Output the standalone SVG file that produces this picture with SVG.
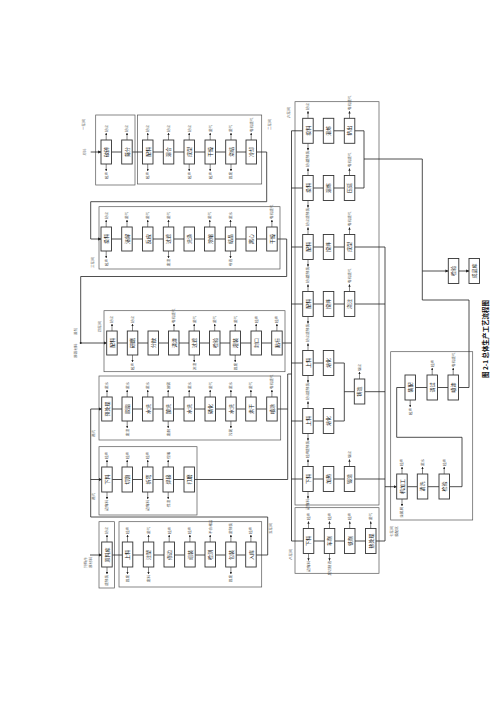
<svg xmlns="http://www.w3.org/2000/svg" width="500" height="707" viewBox="0 0 500 707">
<defs>
<marker id="a" viewBox="0 0 6 6" refX="5.5" refY="3" markerWidth="4" markerHeight="4" orient="auto"><path d="M0,0L6,3L0,6z" fill="#222"/></marker>
<style>
.b{fill:#fff;stroke:#333;stroke-width:0.9}
.f{fill:none;stroke:#555;stroke-width:0.7}
.l{fill:none;stroke:#222;stroke-width:0.8}
.s{fill:none;stroke:#333;stroke-width:0.6}
.t{font-family:"Noto Sans CJK SC","Noto Sans",sans-serif;font-size:5px;fill:#222;text-anchor:middle}
.u{font-family:"Noto Sans CJK SC","Noto Sans",sans-serif;font-size:3.6px;fill:#555;text-anchor:start}
.d{font-family:"Noto Sans CJK SC","Noto Sans",sans-serif;font-size:3.6px;fill:#555;text-anchor:end}
.g{font-family:"Noto Sans CJK SC","Noto Sans",sans-serif;font-size:3.6px;fill:#888;text-anchor:middle}
.c{font-family:"Noto Sans CJK SC","Noto Sans",sans-serif;font-size:6.5px;font-weight:bold;fill:#111;text-anchor:start}
</style>
</defs>
<rect width="500" height="707" fill="#fff"/>
<g id="frames">
<rect class="f" x="95.7" y="115" width="39.3" height="70"/>
<rect class="f" x="137.5" y="115" width="124.2" height="69"/>
<rect class="f" x="99" y="206.7" width="181" height="62.3"/>
<rect class="f" x="104" y="310.7" width="181" height="61"/>
<rect class="f" x="99" y="376" width="181.7" height="64"/>
<rect class="f" x="99" y="446.7" width="98" height="68.3"/>
<rect class="f" x="99" y="521.7" width="15.5" height="66.3"/>
<rect class="f" x="119" y="521.7" width="142.7" height="65.3"/>
<rect class="f" x="295" y="101.7" width="84" height="403.3"/>
<rect class="f" x="295" y="507.7" width="84" height="65.6"/>
<rect class="f" x="390.7" y="351.7" width="82" height="168.3"/>
</g>
<g id="connectors">
<path class="l" d="M90.7,152H101" marker-end="url(#a)"/>
<path class="l" d="M111.5,152H121.7M132.2,152H142.5M153,152H163.3M173.8,152H184M194.5,152H205M215.5,152H225.7M236.2,152H246"/>
<path class="l" d="M256.5,152H266.7V201.7H90.7V239H101" marker-end="url(#a)"/>
<path class="l" d="M111.5,239H121.7M132.2,239H142.5M153,239H163.3M173.8,239H184M194.5,239H204.5M215,239H225.3M235.8,239H246M256.5,239H266.7"/>
<path class="l" d="M277.2,239H286.7V276.5H80.7V343H106.7" marker-end="url(#a)"/>
<circle cx="80.7" cy="343" r="1" fill="#222"/>
<path class="l" d="M117.2,343H127.3M137.8,343H148M158.5,343H168.5M179,343H189M199.5,343H209.5M220,343H230M240.5,343H251M261.5,343H271.7"/>
<path class="l" d="M282.2,343H291.5"/>
<path class="l" d="M112.2,409H122M132.5,409H142.5M153,409H163M173.5,409H184M194.5,409H205M215.5,409H225.7M236.2,409H245.7M256.2,409H266.7"/>
<path class="l" d="M277.2,409H287.7M194.5,479.5H287.7M287.7,479.5V374H291.5"/>
<path class="l" d="M112.2,479.5H122M132.5,479.5H142.5M153,479.5H163M173.5,479.5H184"/>
<path class="l" d="M90,555H101.7" marker-end="url(#a)"/>
<path class="l" d="M112.2,555H122.3M132.8,555H143.3M153.8,555H164M174.5,555H184.7M195.2,555H205M215.5,555H225.7M236.2,555H245.7"/>
<path class="l" d="M256.2,555H267.7V517H90.7V409"/>
<path class="l" d="M90.7,409H101.7" marker-end="url(#a)"/>
<path class="l" d="M90.7,479.5H101.7" marker-end="url(#a)"/>
<path class="l" d="M291.5,130.8V541"/>
<path class="l" d="M291.5,130.8H302.7M291.5,188H302.7M291.5,247H302.7M291.5,304H302.7M291.5,363H302.7M291.5,421H302.7M291.5,479H302.7M291.5,541H303.3"/>
<path class="l" d="M313.2,130.8H323.3M333.8,130.8H344.3M313.2,188H323.3M333.8,188H344.3M313.2,247H323.3M333.8,247H344.3M313.2,304H323.3M333.8,304H344.3M313.2,363H323.3M313.2,421H323.3M313.2,479H323.3M333.8,479H344.3M313.8,541H324.3M334.8,541H344.5M355,541H365.5"/>
<path class="l" d="M354.8,130.8H364V188H354.8M364,159H422.3V300H469V387.5H459"/>
<path class="l" d="M422.3,271H448.3" marker-end="url(#a)"/>
<path class="l" d="M458.8,271H469" marker-end="url(#a)"/>
<path class="l" d="M333.8,363H344.3V421H333.8M344.3,391.7H354.3"/>
<path class="l" d="M354.8,247H385M354.8,304H385M364.8,391.7H385M354.8,479H385M376,541H385M385,247V541"/>
<path class="l" d="M385,486.7H396.7" marker-end="url(#a)"/>
<path class="l" d="M407.2,486.7H417.3M427.8,486.7H439M449.5,486.7H462V437.3H396.7V387.5H405"/>
<path class="l" d="M415.5,387.5H427M437.5,387.5H448"/>
<g id="stubs" class="s" marker-end="url(#a)">
<path d="M106.2,140V133"/><path d="M106.2,164V171"/><path d="M127,140V133"/><path d="M147.7,140V133"/><path d="M147.7,164V171"/><path d="M168.5,140V133"/><path d="M189.2,140V133"/><path d="M189.2,164V171"/><path d="M210.2,140V133"/><path d="M210.2,164V171"/><path d="M231,140V133"/><path d="M231,164V171"/><path d="M251.2,140V133"/>
<path d="M106.2,227V220"/><path d="M106.2,251V258"/><path d="M127,227V220"/><path d="M147.7,227V220"/><path d="M168.5,227V220"/><path d="M168.5,251V258"/><path d="M209.7,227V220"/><path d="M230.5,227V220"/><path d="M230.5,251V258"/><path d="M271.9,227V220"/>
<path d="M112,331V324"/><path d="M132.5,331V324"/><path d="M132.5,355V362"/><path d="M174,331V324"/><path d="M194.2,331V324"/><path d="M194.2,355V362"/><path d="M214.7,331V324"/><path d="M235.2,331V324"/><path d="M235.2,355V362"/><path d="M256.2,331V324"/><path d="M276.9,331V324"/>
<path d="M107,397V390"/><path d="M127.2,397V390"/><path d="M127.2,421V428"/><path d="M147.7,397V390"/><path d="M168.2,397V390"/><path d="M168.2,421V428"/><path d="M189.2,397V390"/><path d="M210.2,397V390"/><path d="M230.9,397V390"/><path d="M230.9,421V428"/><path d="M250.9,397V390"/><path d="M271.9,397V390"/>
<path d="M107,467V460"/><path d="M107,492V499"/><path d="M127.2,467V460"/><path d="M147.7,467V460"/><path d="M147.7,492V499"/><path d="M168.2,467V460"/><path d="M168.2,492V499"/>
<path d="M107,542V535"/><path d="M107,567V574"/><path d="M127.5,542V535"/><path d="M127.5,567V574"/><path d="M148.5,542V535"/><path d="M148.5,567V574"/><path d="M169.2,542V535"/><path d="M189.9,542V535"/><path d="M210.2,542V535"/><path d="M230.9,542V535"/><path d="M230.9,567V574"/><path d="M250.9,542V535"/>
<path d="M308,118.3V111.3"/><path d="M308,143.3V150.3"/><path d="M349.5,118.3V111.3"/><path d="M308,175.5V168.5"/><path d="M308,200.5V207.5"/><path d="M349.5,175.5V168.5"/><path d="M308,234.5V227.5"/><path d="M308,259.5V266.5"/><path d="M349.5,234.5V227.5"/><path d="M308,291.5V284.5"/><path d="M308,316.5V323.5"/><path d="M349.5,291.5V284.5"/>
<path d="M308,350.5V343.5"/><path d="M308,375.5V382.5"/><path d="M308,408.5V401.5"/><path d="M308,433.5V440.5"/><path d="M359.5,379V372"/><path d="M308,466.5V459.5"/><path d="M308,491.5V498.5"/><path d="M349.5,466.5V459.5"/>
<path d="M308.5,528.5V521.5"/><path d="M308.5,553.5V560.5"/><path d="M329.5,528.5V521.5"/><path d="M329.5,553.5V560.5"/><path d="M349.7,528.5V521.5"/><path d="M370.7,528.5V521.5"/>
<path d="M410.2,400V407"/><path d="M432.2,375V368"/><path d="M453.2,375V368"/>
<path d="M402,474V467"/><path d="M402,499V506"/><path d="M422.5,474V467"/><path d="M444.2,474V467"/>
</g>
</g>
<g id="labels">
<text class="g" transform="translate(86,152) rotate(-90)">原料</text>
<text class="u" transform="translate(85,130) rotate(-90)">一车间</text>
<text class="u" transform="translate(271,130) rotate(-90)">二车间</text>
<text class="u" transform="translate(94,268) rotate(-90)">三车间</text>
<text class="u" transform="translate(77,358) rotate(-90)">原辅材料</text>
<text class="d" transform="translate(77,328) rotate(-90)">溶剂</text>
<text class="u" transform="translate(101,332) rotate(-90)">四车间</text>
<text class="u" transform="translate(95,437) rotate(-90)">蒸汽</text>
<text class="u" transform="translate(95,500) rotate(-90)">蒸汽</text>
<text class="u" transform="translate(87,568) rotate(-90)">外购件</text>
<text class="u" transform="translate(92,568) rotate(-90)">原材料</text>
<text class="u" transform="translate(272,534) rotate(-90)">五车间</text>
<text class="u" transform="translate(290,118) rotate(-90)">六车间</text>
<text class="u" transform="translate(393,537) rotate(-90)">七车间</text>
<text class="u" transform="translate(398,537) rotate(-90)">装配区</text>
<text class="u" transform="translate(292,560) rotate(-90)">八车间</text>
<text class="c" transform="translate(488,378) rotate(-90)">图 2-1 总体生产工艺流程图</text>
</g>
<g id="stublabels">
<text class="u" transform="translate(107.6,132) rotate(-90)">粉尘</text><text class="d" transform="translate(107.6,172) rotate(-90)">噪声</text>
<text class="u" transform="translate(128.4,132) rotate(-90)">粉尘</text>
<text class="u" transform="translate(149.1,132) rotate(-90)">粉尘</text><text class="d" transform="translate(149.1,172) rotate(-90)">噪声</text>
<text class="u" transform="translate(169.9,132) rotate(-90)">粉尘</text>
<text class="u" transform="translate(190.6,132) rotate(-90)">粉尘</text><text class="d" transform="translate(190.6,172) rotate(-90)">噪声</text>
<text class="u" transform="translate(211.6,132) rotate(-90)">废气</text><text class="d" transform="translate(211.6,172) rotate(-90)">噪声</text>
<text class="u" transform="translate(232.4,132) rotate(-90)">废气</text><text class="d" transform="translate(232.4,172) rotate(-90)">固废</text>
<text class="u" transform="translate(252.6,132) rotate(-90)">有机废气</text>
<text class="u" transform="translate(107.6,219) rotate(-90)">粉尘</text><text class="d" transform="translate(107.6,259) rotate(-90)">噪声</text>
<text class="u" transform="translate(128.4,219) rotate(-90)">废气</text>
<text class="u" transform="translate(149.1,219) rotate(-90)">废气</text>
<text class="u" transform="translate(169.9,219) rotate(-90)">废气</text><text class="d" transform="translate(169.9,259) rotate(-90)">废渣</text>
<text class="u" transform="translate(211.1,219) rotate(-90)">废气</text>
<text class="u" transform="translate(231.9,219) rotate(-90)">废水</text><text class="d" transform="translate(231.9,259) rotate(-90)">母液</text>
<text class="u" transform="translate(273.3,219) rotate(-90)">有机废气</text>
<text class="u" transform="translate(113.4,323) rotate(-90)">粉尘</text>
<text class="u" transform="translate(133.9,323) rotate(-90)">粉尘</text><text class="d" transform="translate(133.9,363) rotate(-90)">噪声</text>
<text class="u" transform="translate(175.4,323) rotate(-90)">有机废气</text>
<text class="u" transform="translate(195.6,323) rotate(-90)">废气</text><text class="d" transform="translate(195.6,363) rotate(-90)">滤渣</text>
<text class="u" transform="translate(216.1,323) rotate(-90)">废气</text>
<text class="u" transform="translate(236.6,323) rotate(-90)">废气</text><text class="d" transform="translate(236.6,363) rotate(-90)">固废</text>
<text class="u" transform="translate(257.6,323) rotate(-90)">噪声</text>
<text class="u" transform="translate(278.3,323) rotate(-90)">噪声</text>
<text class="u" transform="translate(108.4,389) rotate(-90)">废水</text>
<text class="u" transform="translate(128.6,389) rotate(-90)">废水</text><text class="d" transform="translate(128.6,429) rotate(-90)">废渣</text>
<text class="u" transform="translate(149.1,389) rotate(-90)">废水</text>
<text class="u" transform="translate(169.6,389) rotate(-90)">酸雾</text><text class="d" transform="translate(169.6,429) rotate(-90)">废酸</text>
<text class="u" transform="translate(190.6,389) rotate(-90)">废水</text>
<text class="u" transform="translate(211.6,389) rotate(-90)">废气</text>
<text class="u" transform="translate(232.3,389) rotate(-90)">废水</text><text class="d" transform="translate(232.3,429) rotate(-90)">污泥</text>
<text class="u" transform="translate(252.3,389) rotate(-90)">废气</text>
<text class="u" transform="translate(273.3,389) rotate(-90)">有机废气</text>
<text class="u" transform="translate(108.4,459) rotate(-90)">噪声</text><text class="d" transform="translate(108.4,500) rotate(-90)">边角料</text>
<text class="u" transform="translate(128.6,459) rotate(-90)">噪声</text>
<text class="u" transform="translate(149.1,459) rotate(-90)">噪声</text><text class="d" transform="translate(149.1,500) rotate(-90)">边角料</text>
<text class="u" transform="translate(169.6,459) rotate(-90)">焊烟</text><text class="d" transform="translate(169.6,500) rotate(-90)">焊渣</text>
<text class="u" transform="translate(108.4,534) rotate(-90)">粉尘</text><text class="d" transform="translate(108.4,575) rotate(-90)">废包装</text>
<text class="u" transform="translate(128.9,534) rotate(-90)">噪声</text><text class="d" transform="translate(128.9,575) rotate(-90)">固废</text>
<text class="u" transform="translate(149.9,534) rotate(-90)">废气</text><text class="d" transform="translate(149.9,575) rotate(-90)">废料</text>
<text class="u" transform="translate(170.6,534) rotate(-90)">噪声</text>
<text class="u" transform="translate(191.3,534) rotate(-90)">噪声</text>
<text class="u" transform="translate(211.6,534) rotate(-90)">不合格品</text>
<text class="u" transform="translate(232.3,534) rotate(-90)">废包装</text><text class="d" transform="translate(232.3,575) rotate(-90)">固废</text>
<text class="u" transform="translate(252.3,534) rotate(-90)">噪声</text>
<text class="u" transform="translate(309.4,110) rotate(-90)">粉尘</text><text class="d" transform="translate(309.4,151) rotate(-90)">废包装</text>
<text class="u" transform="translate(350.9,110) rotate(-90)">有机废气</text>
<text class="u" transform="translate(309.4,167) rotate(-90)">粉尘</text><text class="d" transform="translate(309.4,208) rotate(-90)">废包装</text>
<text class="u" transform="translate(350.9,167) rotate(-90)">有机废气</text>
<text class="u" transform="translate(309.4,226) rotate(-90)">粉尘</text><text class="d" transform="translate(309.4,267) rotate(-90)">废包装</text>
<text class="u" transform="translate(350.9,226) rotate(-90)">有机废气</text>
<text class="u" transform="translate(309.4,283) rotate(-90)">粉尘</text><text class="d" transform="translate(309.4,324) rotate(-90)">废包装</text>
<text class="u" transform="translate(350.9,283) rotate(-90)">有机废气</text>
<text class="u" transform="translate(309.4,342) rotate(-90)">粉尘</text><text class="d" transform="translate(309.4,383) rotate(-90)">废包装</text>
<text class="u" transform="translate(309.4,400) rotate(-90)">粉尘</text><text class="d" transform="translate(309.4,441) rotate(-90)">废包装</text>
<text class="u" transform="translate(360.9,371) rotate(-90)">烟尘</text>
<text class="u" transform="translate(309.4,458) rotate(-90)">噪声</text><text class="d" transform="translate(309.4,499) rotate(-90)">边角料</text>
<text class="u" transform="translate(350.9,458) rotate(-90)">烟尘</text>
<text class="u" transform="translate(309.9,520) rotate(-90)">噪声</text><text class="d" transform="translate(309.9,561) rotate(-90)">边角料</text>
<text class="u" transform="translate(330.9,520) rotate(-90)">噪声</text><text class="d" transform="translate(330.9,561) rotate(-90)">废切削液</text>
<text class="u" transform="translate(351.1,520) rotate(-90)">噪声</text>
<text class="u" transform="translate(372.1,520) rotate(-90)">废气</text>
<text class="d" transform="translate(411.6,408) rotate(-90)">噪声</text>
<text class="u" transform="translate(433.6,367) rotate(-90)">噪声</text>
<text class="u" transform="translate(454.6,367) rotate(-90)">有机废气</text>
<text class="u" transform="translate(403.4,466) rotate(-90)">噪声</text><text class="d" transform="translate(403.4,507) rotate(-90)">金属屑</text>
<text class="u" transform="translate(423.9,466) rotate(-90)">废水</text>
<text class="u" transform="translate(445.6,466) rotate(-90)">噪声</text>
</g>
<g id="n1_1"><rect class="b" x="101" y="140" width="10.5" height="24"/><text class="t" transform="translate(108,152) rotate(-90)">破碎</text></g>
<g id="n1_2"><rect class="b" x="121.7" y="140" width="10.5" height="24"/><text class="t" transform="translate(128.7,152) rotate(-90)">筛分</text></g>
<g id="n1_3"><rect class="b" x="142.5" y="140" width="10.5" height="24"/><text class="t" transform="translate(149.5,152) rotate(-90)">配料</text></g>
<g id="n1_4"><rect class="b" x="163.3" y="140" width="10.5" height="24"/><text class="t" transform="translate(170.3,152) rotate(-90)">混合</text></g>
<g id="n1_5"><rect class="b" x="184" y="140" width="10.5" height="24"/><text class="t" transform="translate(191,152) rotate(-90)">成型</text></g>
<g id="n1_6"><rect class="b" x="205" y="140" width="10.5" height="24"/><text class="t" transform="translate(212,152) rotate(-90)">干燥</text></g>
<g id="n1_7"><rect class="b" x="225.7" y="140" width="10.5" height="24"/><text class="t" transform="translate(232.7,152) rotate(-90)">烧结</text></g>
<g id="n1_8"><rect class="b" x="246" y="140" width="10.5" height="24"/><text class="t" transform="translate(253,152) rotate(-90)">冷却</text></g>
<g id="n2_1"><rect class="b" x="101" y="227" width="10.5" height="24"/><text class="t" transform="translate(108,239) rotate(-90)">投料</text></g>
<g id="n2_2"><rect class="b" x="121.7" y="227" width="10.5" height="24"/><text class="t" transform="translate(128.7,239) rotate(-90)">溶解</text></g>
<g id="n2_3"><rect class="b" x="142.5" y="227" width="10.5" height="24"/><text class="t" transform="translate(149.5,239) rotate(-90)">反应</text></g>
<g id="n2_4"><rect class="b" x="163.3" y="227" width="10.5" height="24"/><text class="t" transform="translate(170.3,239) rotate(-90)">过滤</text></g>
<g id="n2_5"><rect class="b" x="184" y="227" width="10.5" height="24"/><text class="t" transform="translate(191,239) rotate(-90)">洗涤</text></g>
<g id="n2_6"><rect class="b" x="204.5" y="227" width="10.5" height="24"/><text class="t" transform="translate(211.5,239) rotate(-90)">浓缩</text></g>
<g id="n2_7"><rect class="b" x="225.3" y="227" width="10.5" height="24"/><text class="t" transform="translate(232.3,239) rotate(-90)">结晶</text></g>
<g id="n2_8"><rect class="b" x="246" y="227" width="10.5" height="24"/><text class="t" transform="translate(253,239) rotate(-90)">离心</text></g>
<g id="n2_9"><rect class="b" x="266.7" y="227" width="10.5" height="24"/><text class="t" transform="translate(273.7,239) rotate(-90)">干燥</text></g>
<g id="n3_1"><rect class="b" x="106.7" y="331" width="10.5" height="24"/><text class="t" transform="translate(113.7,343) rotate(-90)">配料</text></g>
<g id="n3_2"><rect class="b" x="127.3" y="331" width="10.5" height="24"/><text class="t" transform="translate(134.3,343) rotate(-90)">研磨</text></g>
<g id="n3_3"><rect class="b" x="148" y="331" width="10.5" height="24"/><text class="t" transform="translate(155,343) rotate(-90)">分散</text></g>
<g id="n3_4"><rect class="b" x="168.5" y="331" width="10.5" height="24"/><text class="t" transform="translate(175.5,343) rotate(-90)">调漆</text></g>
<g id="n3_5"><rect class="b" x="189" y="331" width="10.5" height="24"/><text class="t" transform="translate(196,343) rotate(-90)">过滤</text></g>
<g id="n3_6"><rect class="b" x="209.5" y="331" width="10.5" height="24"/><text class="t" transform="translate(216.5,343) rotate(-90)">检验</text></g>
<g id="n3_7"><rect class="b" x="230" y="331" width="10.5" height="24"/><text class="t" transform="translate(237,343) rotate(-90)">灌装</text></g>
<g id="n3_8"><rect class="b" x="251" y="331" width="10.5" height="24"/><text class="t" transform="translate(258,343) rotate(-90)">封口</text></g>
<g id="n3_9"><rect class="b" x="271.7" y="331" width="10.5" height="24"/><text class="t" transform="translate(278.7,343) rotate(-90)">贴标</text></g>
<g id="n4_1"><rect class="b" x="101.7" y="397" width="10.5" height="24"/><text class="t" transform="translate(108.7,409) rotate(-90)">预处理</text></g>
<g id="n4_2"><rect class="b" x="122" y="397" width="10.5" height="24"/><text class="t" transform="translate(129,409) rotate(-90)">脱脂</text></g>
<g id="n4_3"><rect class="b" x="142.5" y="397" width="10.5" height="24"/><text class="t" transform="translate(149.5,409) rotate(-90)">水洗</text></g>
<g id="n4_4"><rect class="b" x="163" y="397" width="10.5" height="24"/><text class="t" transform="translate(170,409) rotate(-90)">酸洗</text></g>
<g id="n4_5"><rect class="b" x="184" y="397" width="10.5" height="24"/><text class="t" transform="translate(191,409) rotate(-90)">水洗</text></g>
<g id="n4_6"><rect class="b" x="205" y="397" width="10.5" height="24"/><text class="t" transform="translate(212,409) rotate(-90)">磷化</text></g>
<g id="n4_7"><rect class="b" x="225.7" y="397" width="10.5" height="24"/><text class="t" transform="translate(232.7,409) rotate(-90)">水洗</text></g>
<g id="n4_8"><rect class="b" x="245.7" y="397" width="10.5" height="24"/><text class="t" transform="translate(252.7,409) rotate(-90)">烘干</text></g>
<g id="n4_9"><rect class="b" x="266.7" y="397" width="10.5" height="24"/><text class="t" transform="translate(273.7,409) rotate(-90)">喷涂</text></g>
<g id="n5_1"><rect class="b" x="101.7" y="467" width="10.5" height="25"/><text class="t" transform="translate(108.7,479.5) rotate(-90)">下料</text></g>
<g id="n5_2"><rect class="b" x="122" y="467" width="10.5" height="25"/><text class="t" transform="translate(129,479.5) rotate(-90)">切割</text></g>
<g id="n5_3"><rect class="b" x="142.5" y="467" width="10.5" height="25"/><text class="t" transform="translate(149.5,479.5) rotate(-90)">折弯</text></g>
<g id="n5_4"><rect class="b" x="163" y="467" width="10.5" height="25"/><text class="t" transform="translate(170,479.5) rotate(-90)">焊接</text></g>
<g id="n5_5"><rect class="b" x="184" y="467" width="10.5" height="25"/><text class="t" transform="translate(191,479.5) rotate(-90)">打磨</text></g>
<g id="n6_1"><rect class="b" x="101.7" y="542" width="10.5" height="25"/><text class="t" transform="translate(108.7,555) rotate(-90)">原料库</text></g>
<g id="n6_2"><rect class="b" x="122.3" y="542" width="10.5" height="25"/><text class="t" transform="translate(129.3,555) rotate(-90)">上料</text></g>
<g id="n6_3"><rect class="b" x="143.3" y="542" width="10.5" height="25"/><text class="t" transform="translate(150.3,555) rotate(-90)">注塑</text></g>
<g id="n6_4"><rect class="b" x="164" y="542" width="10.5" height="25"/><text class="t" transform="translate(171,555) rotate(-90)">修边</text></g>
<g id="n6_5"><rect class="b" x="184.7" y="542" width="10.5" height="25"/><text class="t" transform="translate(191.7,555) rotate(-90)">组装</text></g>
<g id="n6_6"><rect class="b" x="205" y="542" width="10.5" height="25"/><text class="t" transform="translate(212,555) rotate(-90)">检测</text></g>
<g id="n6_7"><rect class="b" x="225.7" y="542" width="10.5" height="25"/><text class="t" transform="translate(232.7,555) rotate(-90)">包装</text></g>
<g id="n6_8"><rect class="b" x="245.7" y="542" width="10.5" height="25"/><text class="t" transform="translate(252.7,555) rotate(-90)">入库</text></g>
<g id="r1_1"><rect class="b" x="302.7" y="118.3" width="10.5" height="25"/><text class="t" transform="translate(309.7,130.8) rotate(-90)">投料</text></g>
<g id="r1_2"><rect class="b" x="323.3" y="118.3" width="10.5" height="25"/><text class="t" transform="translate(330.3,130.8) rotate(-90)">混炼</text></g>
<g id="r1_3"><rect class="b" x="344.3" y="118.3" width="10.5" height="25"/><text class="t" transform="translate(351.3,130.8) rotate(-90)">挤出</text></g>
<g id="r2_1"><rect class="b" x="302.7" y="175.5" width="10.5" height="25"/><text class="t" transform="translate(309.7,188) rotate(-90)">投料</text></g>
<g id="r2_2"><rect class="b" x="323.3" y="175.5" width="10.5" height="25"/><text class="t" transform="translate(330.3,188) rotate(-90)">混炼</text></g>
<g id="r2_3"><rect class="b" x="344.3" y="175.5" width="10.5" height="25"/><text class="t" transform="translate(351.3,188) rotate(-90)">压延</text></g>
<g id="r3_1"><rect class="b" x="302.7" y="234.5" width="10.5" height="25"/><text class="t" transform="translate(309.7,247) rotate(-90)">配料</text></g>
<g id="r3_2"><rect class="b" x="323.3" y="234.5" width="10.5" height="25"/><text class="t" transform="translate(330.3,247) rotate(-90)">搅拌</text></g>
<g id="r3_3"><rect class="b" x="344.3" y="234.5" width="10.5" height="25"/><text class="t" transform="translate(351.3,247) rotate(-90)">成型</text></g>
<g id="r4_1"><rect class="b" x="302.7" y="291.5" width="10.5" height="25"/><text class="t" transform="translate(309.7,304) rotate(-90)">配料</text></g>
<g id="r4_2"><rect class="b" x="323.3" y="291.5" width="10.5" height="25"/><text class="t" transform="translate(330.3,304) rotate(-90)">搅拌</text></g>
<g id="r4_3"><rect class="b" x="344.3" y="291.5" width="10.5" height="25"/><text class="t" transform="translate(351.3,304) rotate(-90)">浇注</text></g>
<g id="r5_1"><rect class="b" x="302.7" y="350.5" width="10.5" height="25"/><text class="t" transform="translate(309.7,363) rotate(-90)">上料</text></g>
<g id="r5_2"><rect class="b" x="323.3" y="350.5" width="10.5" height="25"/><text class="t" transform="translate(330.3,363) rotate(-90)">熔化</text></g>
<g id="r6_1"><rect class="b" x="302.7" y="408.5" width="10.5" height="25"/><text class="t" transform="translate(309.7,421) rotate(-90)">上料</text></g>
<g id="r6_2"><rect class="b" x="323.3" y="408.5" width="10.5" height="25"/><text class="t" transform="translate(330.3,421) rotate(-90)">熔化</text></g>
<g id="r56_3"><rect class="b" x="354.3" y="379" width="10.5" height="25"/><text class="t" transform="translate(361.3,391.5) rotate(-90)">铸造</text></g>
<g id="r7_1"><rect class="b" x="302.7" y="466.5" width="10.5" height="25"/><text class="t" transform="translate(309.7,479) rotate(-90)">下料</text></g>
<g id="r7_2"><rect class="b" x="323.3" y="466.5" width="10.5" height="25"/><text class="t" transform="translate(330.3,479) rotate(-90)">加热</text></g>
<g id="r7_3"><rect class="b" x="344.3" y="466.5" width="10.5" height="25"/><text class="t" transform="translate(351.3,479) rotate(-90)">锻造</text></g>
<g id="r8_1"><rect class="b" x="303.3" y="528.5" width="10.5" height="25"/><text class="t" transform="translate(310.3,541) rotate(-90)">下料</text></g>
<g id="r8_2"><rect class="b" x="324.3" y="528.5" width="10.5" height="25"/><text class="t" transform="translate(331.3,541) rotate(-90)">车削</text></g>
<g id="r8_3"><rect class="b" x="344.5" y="528.5" width="10.5" height="25"/><text class="t" transform="translate(351.5,541) rotate(-90)">铣削</text></g>
<g id="r8_4"><rect class="b" x="365.5" y="528.5" width="10.5" height="25"/><text class="t" transform="translate(372.5,541) rotate(-90)">热处理</text></g>
<g id="p1_1"><rect class="b" x="405" y="375" width="10.5" height="25"/><text class="t" transform="translate(412,387.5) rotate(-90)">装配</text></g>
<g id="p1_2"><rect class="b" x="427" y="375" width="10.5" height="25"/><text class="t" transform="translate(434,387.5) rotate(-90)">调试</text></g>
<g id="p1_3"><rect class="b" x="448" y="375" width="10.5" height="25"/><text class="t" transform="translate(455,387.5) rotate(-90)">喷漆</text></g>
<g id="p2_1"><rect class="b" x="396.7" y="474" width="10.5" height="25"/><text class="t" transform="translate(403.7,486.5) rotate(-90)">机加工</text></g>
<g id="p2_2"><rect class="b" x="417.3" y="474" width="10.5" height="25"/><text class="t" transform="translate(424.3,486.5) rotate(-90)">清洗</text></g>
<g id="p2_3"><rect class="b" x="439" y="474" width="10.5" height="25"/><text class="t" transform="translate(446,486.5) rotate(-90)">检验</text></g>
<g id="f_1"><rect class="b" x="448.3" y="258.5" width="10.5" height="25"/><text class="t" transform="translate(455.3,271) rotate(-90)">检验</text></g>
<g id="f_2"><rect class="b" x="469" y="258.5" width="10.5" height="25"/><text class="t" transform="translate(476,271) rotate(-90)">成品库</text></g>
</svg>
